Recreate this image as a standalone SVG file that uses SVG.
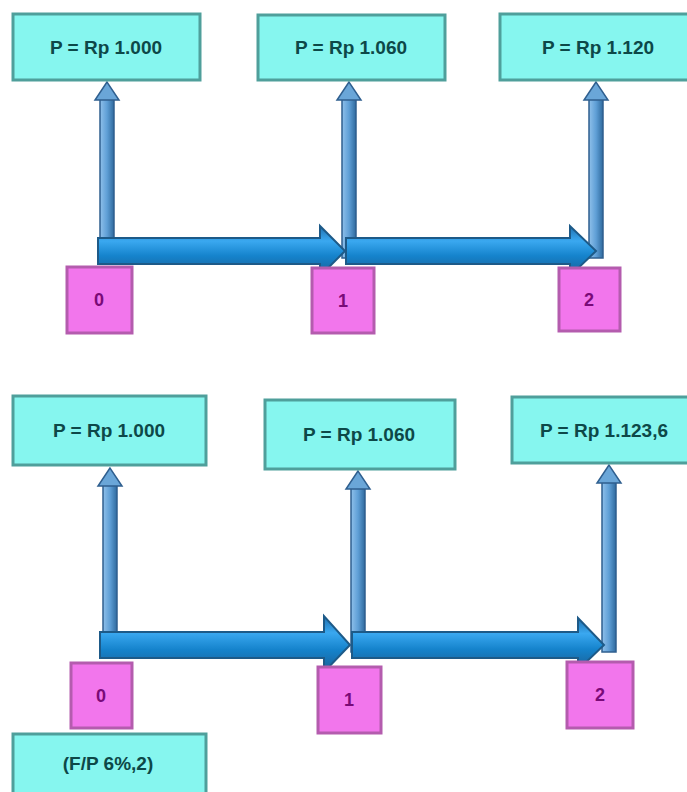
<svg xmlns="http://www.w3.org/2000/svg" width="687" height="792" viewBox="0 0 687 792">
<style>
.pbox{fill:#86f6ef;stroke:#4f9f9b;stroke-width:3}
.ptxt{font-family:"Liberation Sans",Arial,sans-serif;font-weight:bold;font-size:19px;fill:#0d4848;text-anchor:middle}
.tbox{fill:#f276ec;stroke:#b45cae;stroke-width:3}
.ttxt{font-family:"Liberation Sans",Arial,sans-serif;font-weight:bold;font-size:18px;fill:#7a0a78;text-anchor:middle}
.vshaft{fill:url(#vg);stroke:#2f5f8f;stroke-width:1.5}
.vhead{fill:#6aa6d8;stroke:#2f5f8f;stroke-width:1.5}
.hbar{fill:url(#hg);stroke:#1d5a88;stroke-width:2}
</style>
<defs>
<linearGradient id="vg" x1="0" y1="0" x2="1" y2="0">
<stop offset="0" stop-color="#8fc0ea"/><stop offset="0.5" stop-color="#5f9fd6"/><stop offset="1" stop-color="#2f6a9e"/>
</linearGradient>
<linearGradient id="hg" x1="0" y1="0" x2="0" y2="1">
<stop offset="0" stop-color="#1f6fae"/><stop offset="0.3" stop-color="#3aa8f0"/><stop offset="0.6" stop-color="#1583cc"/><stop offset="1" stop-color="#1b5f95"/>
</linearGradient>
</defs>

<g id="connectors">
  <!-- top verticals -->
  <rect class="vshaft" x="100" y="98" width="14" height="160"/>
  <polygon class="vhead" points="107,82 95,100 119,100"/>
  <rect class="vshaft" x="342" y="98" width="14" height="160"/>
  <polygon class="vhead" points="349,82 337,100 361,100"/>
  <rect class="vshaft" x="589" y="98" width="14" height="160"/>
  <polygon class="vhead" points="596,82 584,100 608,100"/>
  <!-- top horizontals -->
  <polygon class="hbar" points="98,238 320,238 320,226 345,251 320,276 320,264 98,264"/>
  <polygon class="hbar" points="346,238 570,238 570,226 596,251 570,276 570,264 346,264"/>
  <!-- bottom verticals -->
  <rect class="vshaft" x="103" y="484" width="14" height="168"/>
  <polygon class="vhead" points="110,468 98,486 122,486"/>
  <rect class="vshaft" x="351" y="488" width="14" height="164"/>
  <polygon class="vhead" points="358,471 346,489 370,489"/>
  <rect class="vshaft" x="602" y="482" width="14" height="170"/>
  <polygon class="vhead" points="609,465 597,483 621,483"/>
  <!-- bottom horizontals -->
  <polygon class="hbar" points="100,632 324,632 324,616 350,645 324,672 324,658 100,658"/>
  <polygon class="hbar" points="352,632 578,632 578,618 604,645 578,670 578,658 352,658"/>
</g>

<g id="top-p0"><rect class="pbox" x="13" y="14" width="187" height="66"/><text class="ptxt" x="106" y="54">P = Rp 1.000</text></g>
<g id="top-p1"><rect class="pbox" x="258" y="15" width="187" height="65"/><text class="ptxt" x="351" y="54">P = Rp 1.060</text></g>
<g id="top-p2"><rect class="pbox" x="500" y="14" width="190" height="66"/><text class="ptxt" x="598" y="54">P = Rp 1.120</text></g>

<g id="top-t0"><rect class="tbox" x="67" y="267" width="65" height="66"/><text class="ttxt" x="99" y="306">0</text></g>
<g id="top-t1"><rect class="tbox" x="312" y="268" width="62" height="65"/><text class="ttxt" x="343" y="307">1</text></g>
<g id="top-t2"><rect class="tbox" x="559" y="268" width="61" height="63"/><text class="ttxt" x="589" y="306">2</text></g>

<g id="bot-p0"><rect class="pbox" x="13" y="396" width="193" height="69"/><text class="ptxt" x="109" y="437">P = Rp 1.000</text></g>
<g id="bot-p1"><rect class="pbox" x="265" y="400" width="190" height="69"/><text class="ptxt" x="359" y="441">P = Rp 1.060</text></g>
<g id="bot-p2"><rect class="pbox" x="512" y="397" width="178" height="66"/><text class="ptxt" x="604" y="437">P = Rp 1.123,6</text></g>

<g id="bot-t0"><rect class="tbox" x="71" y="663" width="61" height="65"/><text class="ttxt" x="101" y="702">0</text></g>
<g id="bot-t1"><rect class="tbox" x="318" y="667" width="63" height="66"/><text class="ttxt" x="349" y="706">1</text></g>
<g id="bot-t2"><rect class="tbox" x="567" y="662" width="66" height="66"/><text class="ttxt" x="600" y="701">2</text></g>

<g id="factor"><rect class="pbox" x="13" y="734" width="193" height="62"/><text class="ptxt" x="108" y="770">(F/P 6%,2)</text></g>
</svg>
